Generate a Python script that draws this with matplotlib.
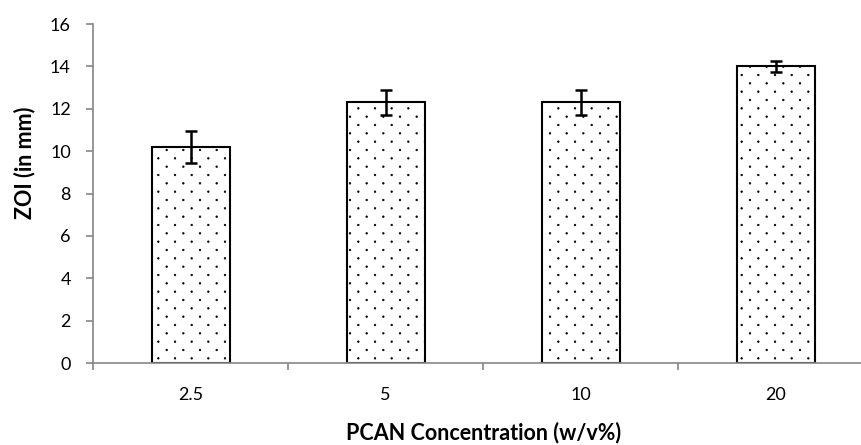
import numpy as np
import matplotlib.pyplot as plt
import matplotlib.hatch as mhatch
from matplotlib.path import Path

# Datos
concentraciones = ['2.5', '5', '10', '20']
zoi = [10.2, 12.3, 12.3, 14.0]
errores = [0.75, 0.6, 0.6, 0.25]


# Trama de puntos finos parecida al relleno "5%" de Excel
class PuntosFinos(mhatch.HatchPatternBase):
    def __init__(self, hatch, density):
        self.cols = hatch.count('.') * density
        if self.cols == 0:
            self.num_vertices = 0
        else:
            circ = Path.unit_circle()
            self.forma = circ.vertices
            self.codigos = circ.codes
            n_formas = (self.cols + 1) ** 2 + self.cols ** 2
            self.num_vertices = n_formas * len(self.forma)

    def set_vertices_and_codes(self, vertices, codes):
        paso = 1.0 / self.cols
        forma = self.forma * 0.008
        partes_v, partes_c = [], []
        for fila in range(2 * self.cols + 1):
            if fila % 2 == 0:
                xs = np.linspace(0, 1, self.cols + 1)
            else:
                xs = np.linspace(paso / 2, 1 - paso / 2, self.cols)
            for x in xs:
                partes_v.append(forma + [x, fila * paso / 2])
                partes_c.append(self.codigos)
        np.concatenate(partes_v, out=vertices)
        np.concatenate(partes_c, out=codes)


mhatch._hatch_types = [t for t in mhatch._hatch_types
                       if t is not mhatch.SmallFilledCircles] + [PuntosFinos]

plt.rcParams['font.family'] = ['Lato', 'DejaVu Sans']
plt.rcParams['hatch.color'] = '#3a3a3a'
plt.rcParams['hatch.linewidth'] = 0.5

fig = plt.figure(figsize=(8.62, 4.45), dpi=100)
ax = fig.add_axes([0.108, 0.184, 0.905, 0.762])

pos = range(len(concentraciones))
ax.bar(pos, zoi, width=0.4, color='white', edgecolor='black',
       linewidth=1.5, hatch='.', zorder=2)
ax.errorbar(pos, zoi, yerr=errores, fmt='none', ecolor='black',
            elinewidth=1.8, capsize=4, capthick=1.8, zorder=3)

ax.set_xlim(-0.5, 3.5)
ax.set_ylim(0, 16)
ax.set_yticks(range(0, 17, 2))
ax.set_xticks(list(pos))
ax.set_xticklabels(concentraciones)
ax.set_xticks([-0.5, 0.5, 1.5, 2.5], minor=True)

for lado in ['top', 'right']:
    ax.spines[lado].set_visible(False)
for lado in ['left', 'bottom']:
    ax.spines[lado].set_color('#868686')
    ax.spines[lado].set_linewidth(1.2)
    ax.spines[lado].set_zorder(4)

ax.tick_params(axis='y', direction='out', length=5, color='#868686',
               width=1.2, labelsize=13, pad=11)
ax.tick_params(axis='x', which='major', length=0, labelsize=13, pad=17)
ax.tick_params(axis='x', which='minor', direction='out', length=5,
               color='#868686', width=1.2)

ax.set_xlabel('PCAN Concentration (w/v%)', fontsize=15.5, fontweight='bold')
ax.set_ylabel('ZOI (in mm)', fontsize=15.5, fontweight='bold')
ax.xaxis.set_label_coords(0.5, -0.172)
ax.yaxis.set_label_coords(-0.074, 0.59)

plt.savefig('out.png', dpi=100)
